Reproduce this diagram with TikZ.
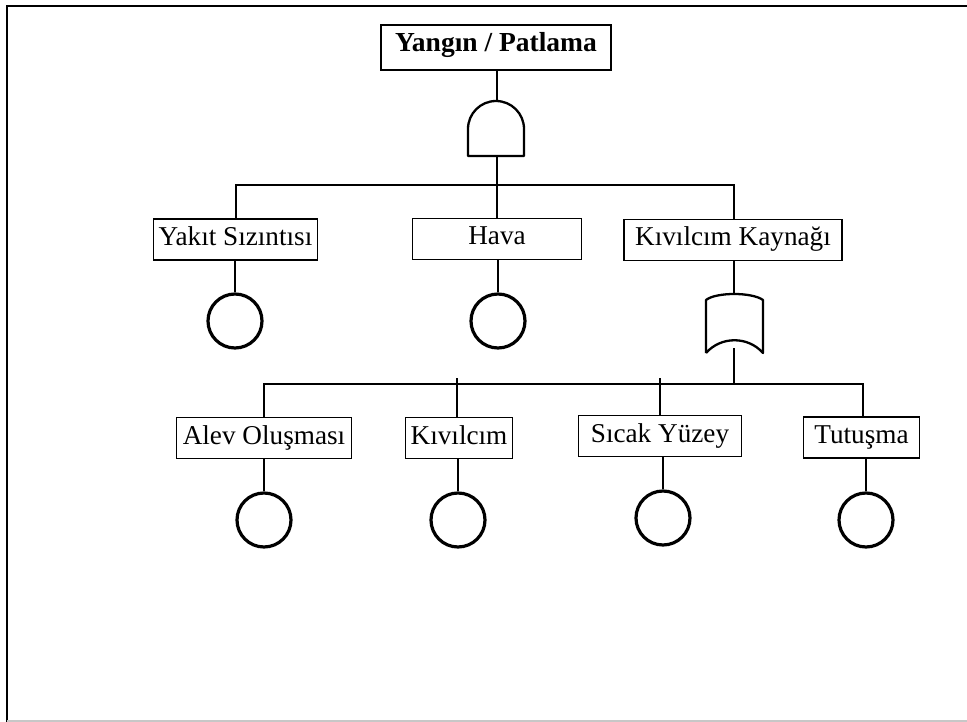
\documentclass[tikz,border=0pt]{standalone}
\usepackage{fontspec}
\setmainfont{Liberation Serif}
\begin{document}
\begin{tikzpicture}[x=1pt,y=-1pt,
  event/.style={draw, line width=1.8pt, fill=white, inner sep=0pt,
    font=\fontsize{27.2}{30}\selectfont, minimum height=41pt,
    text height=18pt, text depth=6pt},
  basic/.style={draw, circle, line width=3.2pt, minimum size=54pt, inner sep=0pt},
  wire/.style={line width=1.7pt},
  gate/.style={line width=2.3pt, line join=round}]
\useasboundingbox (0,0) rectangle (967,722);

% page frame
\draw[line width=2pt] (967,6) -- (7,6) -- (7,722);
\draw[line width=1.5pt, black!22] (7,721) -- (967,721);

% top event
\node[event, minimum width=230pt, minimum height=45pt, text height=16.5pt, text depth=7.5pt,
  font=\fontsize{27.5}{30}\selectfont\bfseries]
  (top) at (496,47.5) {Yangın / Patlama};

% AND gate
\coordinate (andin) at (497,101);
\coordinate (andout) at (497,156);
\draw[gate] (468,156) -- (468,129) arc[start angle=180, end angle=0, radius=28pt] -- (524,156) -- cycle;
\draw[wire] (top.south -| andin) -- (andin);

% first level
\node[event, minimum width=164pt] (yakit) at (235.5,239.5) {Yakıt Sızıntısı};
\node[event, minimum width=169pt] (hava) at (497,239) {Hava};
\node[event, minimum width=218pt] (kaynak) at (733,240) {Kıvılcım Kaynağı};

\coordinate (bus1) at (497,185);
\draw[wire] (andout) -- (bus1);
\draw[wire] (yakit.north -| 236,0) |- (bus1) -| (kaynak.north -| 734,0);
\draw[wire] (hava.north) -- (bus1);

% basic events of the first level
\node[basic] (c1) at (235,321) {};
\node[basic] (c2) at (498,321) {};
\draw[wire] (yakit.south -| c1) -- (c1.north);
\draw[wire] (hava.south -| c2) -- (c2.north);

% OR gate
\coordinate (orin) at (734,294);
\coordinate (orout) at (734,348);
\draw[gate] (706,353) -- (706,300) .. controls (716,292) and (752,292) .. (763,300)
  -- (763,353) .. controls (748,336) and (721,336) .. (706,353);
\draw[wire] (kaynak.south -| orin) -- (orin);

% second level
\node[event, minimum width=175pt] (alev) at (264,438) {Alev Oluşması};
\node[event, minimum width=107pt] (kiv) at (459,438) {Kıvılcım};
\node[event, minimum width=163pt] (sicak) at (660,436) {Sıcak Yüzey};
\node[event, minimum width=116pt] (tutus) at (861.5,437.5) {Tutuşma};

\coordinate (bus2) at (734,384);
\draw[wire] (orout) -- (bus2);
\draw[wire] (alev.north) |- (bus2) -| (tutus.north -| 863,0);
\draw[wire] (kiv.north -| 457,0) -- (457,378);
\draw[wire] (sicak.north) -- (660,378);

% basic events of the second level
\node[basic] (c3) at (264,520) {};
\node[basic] (c4) at (458,520) {};
\node[basic] (c5) at (663,518) {};
\node[basic] (c6) at (866,520) {};
\draw[wire] (alev.south) -- (c3.north);
\draw[wire] (kiv.south -| c4) -- (c4.north);
\draw[wire] (sicak.south -| c5) -- (c5.north);
\draw[wire] (tutus.south -| c6) -- (c6.north);
\end{tikzpicture}
\end{document}
